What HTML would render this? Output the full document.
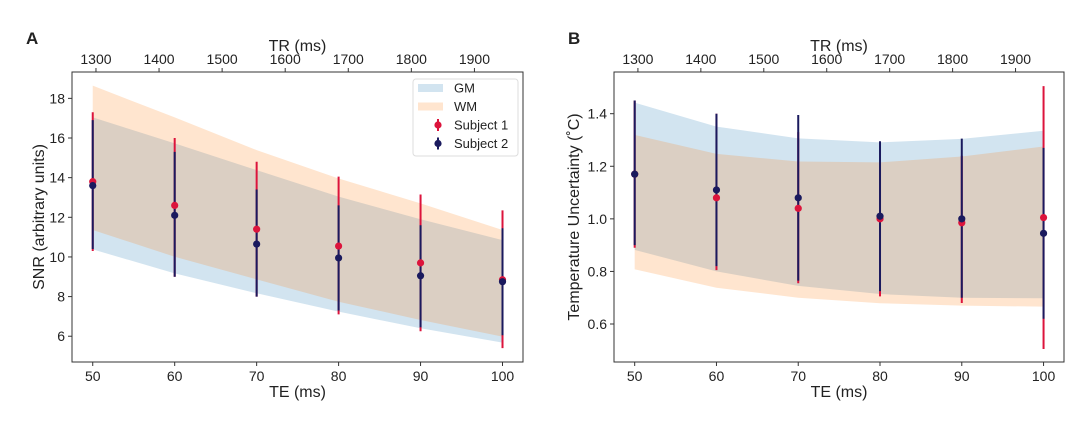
<!DOCTYPE html>
<html><head><meta charset="utf-8"><style>
body{margin:0;background:#fff;}
svg text{font-family:"Liberation Sans","DejaVu Sans",sans-serif;fill:#222;}
</style></head><body>
<svg id="fig" width="1092" height="419" xmlns="http://www.w3.org/2000/svg"></svg>
<script>
const teValues=[50,60,70,80,90,100];
const teTicks=[50,60,70,80,90,100];
const trTicks=[1300,1400,1500,1600,1700,1800,1900];
// Panel A (SNR)
const snrGmUpper=[17.04,15.73,14.38,13.04,11.9,10.85];
const snrGmLower=[10.38,9.17,8.17,7.24,6.40,5.68];
const snrWmUpper=[18.64,17.04,15.39,13.96,12.7,11.36];
const snrWmLower=[11.36,10.01,8.87,7.74,6.82,5.98];
const snrS1=[13.8,12.6,11.4,10.55,9.7,8.85];
const snrS1Hi=[17.3,16.0,14.8,14.05,13.15,12.35];
const snrS1Lo=[10.3,9.0,8.0,7.1,6.25,5.4];
const snrS2=[13.6,12.1,10.65,9.95,9.05,8.75];
const snrS2Hi=[16.9,15.3,13.4,12.6,11.6,11.45];
const snrS2Lo=[10.4,9.0,8.0,7.3,6.45,6.05];
const snrTicks=[6,8,10,12,14,16,18];
const snrTickLabels=["6","8","10","12","14","16","18"];
// Panel B (Temperature uncertainty)
const tuGmUpper=[1.442,1.351,1.306,1.291,1.304,1.335];
const tuGmLower=[0.882,0.80,0.745,0.714,0.70,0.698];
const tuWmUpper=[1.319,1.247,1.218,1.215,1.237,1.275];
const tuWmLower=[0.808,0.738,0.70,0.679,0.67,0.666];
const tuS1=[1.17,1.08,1.04,1.0,0.985,1.005];
const tuS1Hi=[1.45,1.40,1.33,1.22,1.24,1.505];
const tuS1Lo=[0.89,0.805,0.755,0.705,0.68,0.505];
const tuS2=[1.17,1.11,1.08,1.01,1.0,0.945];
const tuS2Hi=[1.45,1.40,1.395,1.295,1.305,1.27];
const tuS2Lo=[0.90,0.82,0.765,0.725,0.70,0.62];
const tuTicks=[0.6,0.8,1.0,1.2,1.4];
const tuTickLabels=["0.6","0.8","1.0","1.2","1.4"];

const NS="http://www.w3.org/2000/svg";
const svg=document.getElementById('fig');
function mk(tag,attrs,parent){const e=document.createElementNS(NS,tag);for(const k in attrs)e.setAttribute(k,attrs[k]);(parent||svg).appendChild(e);return e;}
function txt(s,attrs,parent){const e=mk('text',attrs,parent);e.textContent=s;return e;}

function panel(cfg){
  const g=mk('g',{});
  
  
  const L=cfg.left,R=cfg.right,T=72,B=362;
  const xs=v=>L+(v-47.47)/(102.5-47.47)*(R-L);
  const ys=v=>B-(v-cfg.ymin)/(cfg.ymax-cfg.ymin)*(B-T);
  const trs=v=>L+(v-1262)/(1977-1262)*(R-L);
  function band(up,lo,color,name){
    let d='M'+teValues.map((t,i)=>xs(t)+','+ys(up[i])).join('L');
    d+='L'+teValues.slice().reverse().map((t,j)=>{const i=teValues.length-1-j;return xs(t)+','+ys(lo[i]);}).join('L')+'Z';
    const p=mk('path',{d:d,fill:color,'fill-opacity':0.2},g);
    
    
  }
  band(cfg.gmU,cfg.gmL,'#1f77b4','gm-band');
  band(cfg.wmU,cfg.wmL,'#ff7f0e','wm-band');
  function series(vals,hi,lo,color,name){
    teValues.forEach((t,i)=>{
      const x=xs(t);
      const l=mk('line',{x1:x,x2:x,y1:ys(hi[i]),y2:ys(lo[i]),stroke:color,'stroke-width':2},g);
      
      
    });
  }
  function pts(vals,color,name){
    teValues.forEach((t,i)=>{
      const c=mk('circle',{cx:xs(t),cy:ys(vals[i]),r:3.6,fill:color},g);
      
      
    });
  }
  series(cfg.s1,cfg.s1H,cfg.s1L,'#dc143c','subject-1');
  series(cfg.s2,cfg.s2H,cfg.s2L,'#1a1a5e','subject-2');
  pts(cfg.s1,'#dc143c','subject-1');
  pts(cfg.s2,'#1a1a5e','subject-2');
  const fr=mk('rect',{x:L,y:T,width:R-L,height:B-T,fill:'none',stroke:'#333','stroke-width':1},g);
  
  
  teTicks.forEach(t=>{
    mk('line',{x1:xs(t),x2:xs(t),y1:B,y2:B+4,stroke:'#333'},g);
    const e=txt(String(t),{x:xs(t),y:B+19,'font-size':14,'text-anchor':'middle'},g);
    
    
  });
  trTicks.forEach(t=>{
    mk('line',{x1:trs(t),x2:trs(t),y1:T,y2:T-4,stroke:'#333'},g);
    const e=txt(String(t),{x:trs(t),y:T-8,'font-size':14,'text-anchor':'middle'},g);
    
    
  });
  cfg.yt.forEach((t,i)=>{
    mk('line',{x1:L,x2:L-4,y1:ys(t),y2:ys(t),stroke:'#333'},g);
    const e=txt(cfg.ytl[i],{x:L-7,y:ys(t)+5,'font-size':14,'text-anchor':'end'},g);
    
    
  });
  const xl=txt('TE (ms)',{x:(L+R)/2,y:397,'font-size':16,'text-anchor':'middle'},g);
  
  
  const tl=txt('TR (ms)',{x:(L+R)/2,y:51,'font-size':16,'text-anchor':'middle'},g);
  
  
  const yl=txt(cfg.ylabel,{x:0,y:0,'font-size':16,'text-anchor':'middle',transform:'translate('+cfg.ylx+',217) rotate(-90)'},g);
  
  
  const pl=txt(cfg.letter,{x:cfg.letterX,y:44,'font-size':17,'font-weight':'bold'},g);
  
  
  return g;
}

panel({name:'panel-a-snr',left:72,right:523,ymin:4.70,ymax:19.33,
  gmU:snrGmUpper,gmL:snrGmLower,wmU:snrWmUpper,wmL:snrWmLower,
  s1:snrS1,s1H:snrS1Hi,s1L:snrS1Lo,s2:snrS2,s2H:snrS2Hi,s2L:snrS2Lo,
  yt:snrTicks,ytl:snrTickLabels,ylabel:'SNR (arbitrary units)',ylx:44,letter:'A',letterX:26});
panel({name:'panel-b-temperature',left:614,right:1064,ymin:0.4555,ymax:1.5586,
  gmU:tuGmUpper,gmL:tuGmLower,wmU:tuWmUpper,wmL:tuWmLower,
  s1:tuS1,s1H:tuS1Hi,s1L:tuS1Lo,s2:tuS2,s2H:tuS2Hi,s2L:tuS2Lo,
  yt:tuTicks,ytl:tuTickLabels,ylabel:'Temperature Uncertainty (\u02DAC)',ylx:579,letter:'B',letterX:568});

// legend
const lg=mk('g',{});


mk('rect',{x:413,y:79,width:105,height:77,rx:3,fill:'#fff','fill-opacity':0.85,stroke:'#ddd'},lg);
const legendItems=[['GM','#1f77b4','patch'],['WM','#ff7f0e','patch'],['Subject 1','#dc143c','pt'],['Subject 2','#1a1a5e','pt']];
legendItems.forEach((it,i)=>{
  const y=88+i*18.5;
  if(it[2]==='patch'){mk('rect',{x:418,y:y-4,width:25,height:8,fill:it[1],'fill-opacity':0.2},lg);}
  else{mk('line',{x1:438,x2:438,y1:y-6,y2:y+6,stroke:it[1],'stroke-width':2},lg);mk('circle',{cx:438,cy:y,r:3.6,fill:it[1]},lg);}
  const e=txt(it[0],{x:454,y:y+4.5,'font-size':13},lg);
  
  
});
</script>
</body></html>
